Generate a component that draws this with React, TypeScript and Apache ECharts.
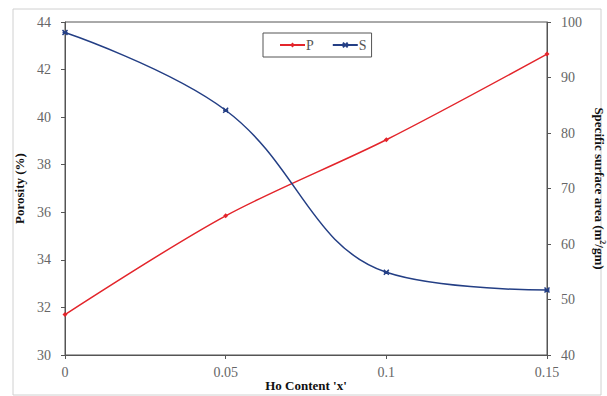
import React, { useEffect, useRef } from "react";
import * as echarts from "echarts";

const xValues = [0, 0.05, 0.1, 0.15];
const porosity = [31.7, 35.85, 39.05, 42.65];
const surfaceArea = [98.1, 84.1, 54.9, 51.7];

const FONT = "'Liberation Serif', 'Times New Roman', serif";
const RED = "#e3252b";
const BLUE = "#243f85";
const CROSS = "path://M0,0 L10,10 M10,0 L0,10 M0,5 L10,5";

export default function App() {
  const ref = useRef<HTMLDivElement>(null);
  useEffect(() => {
    if (!ref.current) return;
    const chart = echarts.init(ref.current, undefined, { renderer: "svg" });
    chart.setOption({
      animation: false,
      backgroundColor: "#fff",
      graphic: [
        {
          type: "rect",
          shape: { x: 13, y: 9, width: 588, height: 386 },
          style: { fill: "none", stroke: "#d0d0d0", lineWidth: 1 },
          silent: true,
        },
      ],
      grid: {
        left: 65,
        right: 60,
        top: 22,
        bottom: 41,
        show: true,
        borderColor: "#555",
        borderWidth: 1,
        containLabel: false,
        outerBoundsMode: "none",
      },
      legend: {
        left: 263,
        top: 33,
        padding: [5, 5, 5, 16],
        borderColor: "#555",
        borderWidth: 1,
        itemGap: 18,
        itemWidth: 25,
        itemHeight: 6,
        textStyle: { fontFamily: FONT, fontSize: 14, color: "#555", padding: [0, 0, 0, -4] },
        data: ["P", "S"],
      },
      xAxis: {
        type: "value",
        min: 0,
        max: 0.15,
        interval: 0.05,
        name: "Ho Content 'x'",
        nameLocation: "middle",
        nameGap: 24,
        nameMoveOverlap: false,
        nameTextStyle: { fontFamily: FONT, fontSize: 13, fontWeight: "bold", color: "#111" },
        axisLine: { lineStyle: { color: "#555" } },
        axisTick: { show: true, length: 4, lineStyle: { color: "#555" } },
        axisLabel: { fontFamily: FONT, fontSize: 14, color: "#666", margin: 10 },
        splitLine: { show: false },
      },
      yAxis: [
        {
          type: "value",
          min: 30,
          max: 44,
          interval: 2,
          position: "left",
          name: "Porosity (%)",
          nameLocation: "middle",
          nameGap: 36,
          nameRotate: 90,
          nameTextStyle: { fontFamily: FONT, fontSize: 13, fontWeight: "bold", color: "#111" },
          axisLine: { show: true, lineStyle: { color: "#555" } },
          axisTick: { show: true, length: 4, lineStyle: { color: "#555" } },
          axisLabel: { fontFamily: FONT, fontSize: 14, color: "#666", margin: 14 },
          splitLine: { show: false },
        },
        {
          type: "value",
          min: 40,
          max: 100,
          interval: 10,
          position: "right",
          name: "Specific surface area (m{sup|2}/gm)",
          nameLocation: "middle",
          nameGap: 39,
          nameRotate: -90,
          nameTextStyle: {
            fontFamily: FONT,
            fontSize: 13,
            fontWeight: "bold",
            color: "#111",
            rich: {
              sup: { fontFamily: FONT, fontSize: 8, fontWeight: "bold", color: "#111", verticalAlign: "top", padding: [0, 0, 6, 0] },
            },
          },
          axisLine: { show: true, lineStyle: { color: "#555" } },
          axisTick: { show: true, length: 4, lineStyle: { color: "#555" } },
          axisLabel: { fontFamily: FONT, fontSize: 14, color: "#666", margin: 14 },
          splitLine: { show: false },
        },
      ],
      series: [
        {
          name: "P",
          type: "line",
          yAxisIndex: 0,
          data: xValues.map((x, i) => [x, porosity[i]]),
          smooth: 0.3,
          symbol: "diamond",
          symbolSize: 5,
          lineStyle: { color: RED, width: 1.5 },
          itemStyle: { color: RED },
        },
        {
          name: "S",
          type: "line",
          yAxisIndex: 1,
          data: xValues.map((x, i) => [x, surfaceArea[i]]),
          smooth: 0.4,
          symbol: CROSS,
          symbolSize: 5,
          lineStyle: { color: BLUE, width: 1.5 },
          itemStyle: { color: BLUE, borderColor: BLUE, borderWidth: 1.5 },
        },
      ],
    });
    return () => chart.dispose();
  }, []);
  return <div ref={ref} style={{ position: "fixed", left: 0, top: 0, width: 607, height: 396 }} />;
}
